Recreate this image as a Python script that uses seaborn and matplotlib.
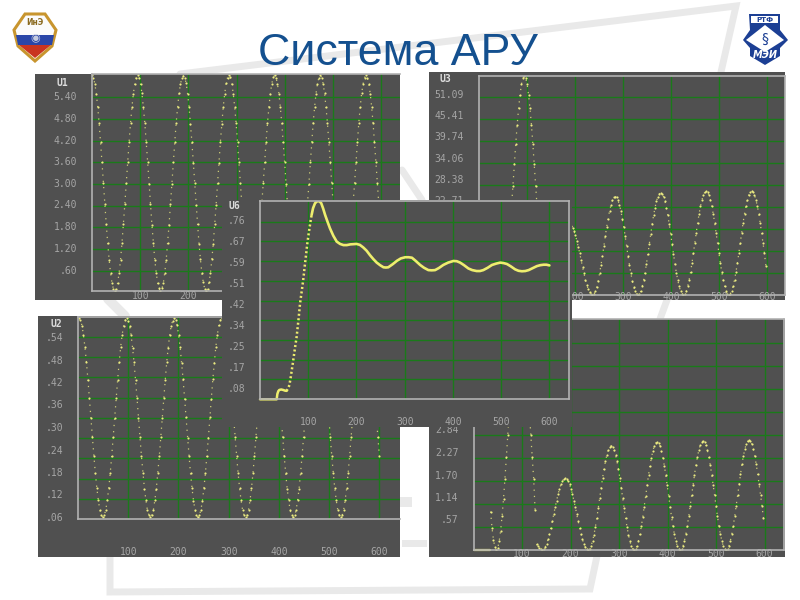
import numpy as np
import matplotlib
matplotlib.use("Agg")
import matplotlib.pyplot as plt
from matplotlib.patches import Polygon, Rectangle
import seaborn as sns

# ---------- data ----------
SAMPLE_STEP = 2.96
x_ticks = [100, 200, 300, 400, 500, 600]

u1_labels = ["5.40", "4.80", "4.20", "3.60", "3.00", "2.40", "1.80", "1.20", ".60"]
u1_grid = [5.4, 4.8, 4.2, 3.6, 3.0, 2.4, 1.8, 1.2, 0.6]
u1_values = [
    6.00,5.94,5.77,5.50,5.13,4.68,4.16,3.60,3.02,2.44,1.88,1.36,.91,.54,.27,.10,.04,.10,.27,.54,.91,1.36,1.88,2.44,3.02,3.60,4.16,4.68,5.13,5.50,5.77,5.94,
    6.00,5.93,5.76,5.51,5.12,4.69,4.15,3.61,3.01,2.45,1.87,1.37,.90,.55,.26,.11,.04,.11,.26,.55,.90,1.37,1.87,2.45,3.01,3.61,4.15,4.69,5.12,5.51,5.76,5.93,
    5.99,5.94,5.78,5.49,5.14,4.67,4.17,3.59,3.03,2.43,1.89,1.35,.92,.53,.28,.10,.05,.10,.28,.53,.92,1.35,1.89,2.43,3.03,3.59,4.17,4.67,5.14,5.49,5.78,5.94,
    6.00,5.95,5.77,5.50,5.13,4.68,4.16,3.60,3.02,2.44,1.88,1.36,.91,.54,.27,.10,.04,.10,.27,.54,.91,1.36,1.88,2.44,3.02,3.60,4.16,4.68,5.13,5.50,5.77,5.95,
    6.00,5.94,5.76,5.50,5.12,4.68,4.15,3.60,3.01,2.44,1.87,1.36,.90,.54,.26,.10,.04,.10,.26,.54,.90,1.36,1.87,2.44,3.01,3.60,4.15,4.68,5.12,5.50,5.76,5.94,
    6.00,5.94,5.77,5.51,5.13,4.69,4.16,3.61,3.02,2.45,1.88,1.37,.91,.55,.27,.11,.04,.11,.27,.55,.91,1.37,1.88,2.45,3.02,3.61,4.16,4.69,5.13,5.51,5.77,5.94,
    6.00,5.94,5.77,5.50,5.13,4.68,4.16,3.60,3.02,2.44,1.88,
]

u2_labels = [".54", ".48", ".42", ".36", ".30", ".24", ".18", ".12", ".06"]
u2_grid = [.54, .48, .42, .36, .30, .24, .18, .12, .06]
u2_values = [
    .595,.589,.573,.545,.509,.464,.413,.358,.300,.242,.187,.136,.091,.055,.027,.011,.005,.011,.027,.055,.091,.136,.187,.242,.300,.358,.413,.464,.509,.545,.573,.589,
    .595,.588,.572,.546,.508,.465,.412,.359,.299,.243,.186,.137,.090,.056,.026,.012,.005,.012,.026,.056,.090,.137,.186,.243,.299,.359,.412,.465,.508,.546,.572,.588,
    .596,.589,.574,.544,.510,.463,.414,.357,.301,.241,.188,.135,.092,.054,.028,.011,.005,.011,.028,.054,.092,.135,.188,.241,.301,.357,.414,.463,.510,.544,.574,.589,
    .595,.590,.573,.545,.509,.464,.413,.358,.300,.242,.187,.136,.091,.055,.027,.011,.005,.011,.027,.055,.091,.136,.187,.242,.300,.358,.413,.464,.509,.545,.573,.590,
    .595,.589,.572,.545,.508,.464,.412,.358,.299,.242,.186,.136,.090,.055,.026,.011,.005,.011,.026,.055,.090,.136,.186,.242,.299,.358,.412,.464,.508,.545,.572,.589,
    .595,.589,.573,.546,.509,.465,.413,.359,.300,.243,.187,.137,.091,.056,.027,.012,.005,.012,.027,.056,.091,.137,.187,.243,.300,.359,.413,.465,.509,.546,.573,.589,
    .595,.589,.573,.545,.509,.464,.413,.358,.300,.242,.187,
]

u3_labels = ["51.09", "45.41", "39.74", "34.06", "28.38", "22.71", "17.03", "11.35", "5.68"]
u3_grid = [51.09, 45.41, 39.74, 34.06, 28.38, 22.71, 17.03, 11.35, 5.68]
u3_values = [
    0,.5,2.1,4.8,8.3,12.6,17.4,22.7,28.2,33.8,39.1,44,48.2,51.7,54.4,56,56.5,56,54.4,51.7,48.2,44,39.1,33.8,28.2,22.7,17.4,12.6,8.3,4.8,2.1,.5,
    0,.2,.7,1.5,2.6,4,5.6,7.2,9,10.8,12.4,14,15.4,16.5,17.3,17.8,18,17.8,17.3,16.5,15.4,14,12.4,10.8,9,7.2,5.6,4,2.6,1.5,.7,.2,
    0,.2,1,2.1,3.7,5.6,7.8,10,12.7,15.2,17.6,19.7,21.7,23.2,24.4,25.2,25.4,25.2,24.4,23.2,21.7,19.7,17.6,15.2,12.7,10,7.8,5.6,3.7,2.1,1,.2,
    0,.3,1,2.2,3.9,5.8,8.1,10.6,13.2,15.8,18.3,20.6,22.5,24.2,25.4,26.1,26.4,26.1,25.4,24.2,22.5,20.6,18.3,15.8,13.2,10.6,8.1,5.8,3.9,2.2,1,.3,
    0,.3,1,2.3,3.9,5.9,8.2,10.8,13.4,16,18.6,20.9,22.9,24.5,25.8,26.5,26.8,26.5,25.8,24.5,22.9,20.9,18.6,16,13.4,10.8,8.2,5.9,3.9,2.3,1,.3,
    0,.3,1,2.3,4,6,8.3,10.8,13.5,16.1,18.7,21,23,24.6,25.9,26.6,26.9,26.6,25.9,24.6,23,21,18.7,16.1,13.5,10.8,7.6,
]

u4_labels = [".57", "1.14", "1.70", "2.27", "2.84"]
u4_grid = [.568, 1.136, 1.704, 2.272, 2.84, 3.408, 3.976, 4.544, 5.112]
u4_flat_x = [0, 34]
u4_flat_y = [0, 0]
u4_first_values = [
    .95,.55,.25,.07,
    0,.05,.22,.48,.83,1.26,1.76,2.29,2.85,3.41,3.94,4.44,4.86,5.22,5.49,5.65,5.70,5.65,5.49,5.22,4.86,4.44,3.94,3.41,2.85,2.29,1.76,.98,
]
u4_values = [
    .14,.10,.06,.02,
    0,.02,.07,.15,.26,.39,.55,.71,.885,1.06,1.22,1.38,1.51,1.62,1.70,1.75,1.77,1.75,1.70,1.62,1.51,1.38,1.22,1.06,.885,.71,.55,.39,.26,.15,.07,.02,
    0,.02,.10,.22,.38,.57,.79,1.03,1.285,1.54,1.78,2.0,2.19,2.35,2.47,2.55,2.57,2.55,2.47,2.35,2.19,2.0,1.78,1.54,1.285,1.03,.79,.57,.38,.22,.10,.02,
    0,.03,.10,.23,.39,.59,.82,1.07,1.335,1.60,1.85,2.08,2.28,2.44,2.57,2.64,2.67,2.64,2.57,2.44,2.28,2.08,1.85,1.60,1.335,1.07,.82,.59,.39,.23,.10,.03,
    0,.03,.10,.23,.40,.60,.83,1.08,1.345,1.61,1.86,2.09,2.29,2.46,2.59,2.66,2.69,2.66,2.59,2.46,2.29,2.09,1.86,1.61,1.345,1.08,.83,.60,.40,.23,.10,.03,
    0,.03,.10,.23,.40,.60,.83,1.09,1.355,1.62,1.88,2.11,2.31,2.48,2.61,2.68,2.71,2.68,2.61,2.48,2.31,2.11,1.88,1.62,1.355,1.09,.79,
]

u6_labels = [".76", ".67", ".59", ".51", ".42", ".34", ".25", ".17", ".08"]
u6_grid = [.76, .676, .591, .507, .422, .338, .253, .169, .085]
u6_rise_x = [55, 58, 61, 64, 68, 72, 76, 80, 83, 87, 90, 93, 95, 98, 101, 104, 107]
u6_rise_y = [.036, .045, .061, .098, .154, .212, .268, .345, .41, .47, .518, .575, .61, .665, .71, .752, .789]
u6_start_x = [0, 34.6, 36, 38, 40, 44, 48, 52, 55]
u6_start_y = [0, 0, .023, .035, .04, .042, .04, .037, .036]
u6_settle_x = [107, 110, 114, 118, 121, 124, 127, 131, 135, 140, 145, 152, 159, 166, 173, 180, 187, 194, 200, 207, 214, 221, 228, 235, 242, 249, 256, 261, 266, 275, 284, 292, 301, 308, 315, 323, 332, 340, 349, 356, 363, 371, 380, 390, 401, 408, 415, 423, 432, 440, 449, 456, 463, 472, 481, 490, 498, 505, 512, 520, 529, 536, 543, 550, 557, 565, 574, 581, 588, 594, 600]
u6_settle_y = [.789, .818, .839, .847, .848, .846, .839, .816, .789, .76, .732, .70, .675, .665, .66, .660, .663, .664, .665, .661, .65, .636, .617, .60, .585, .574, .565, .564, .565, .578, .593, .603, .608, .608, .606, .592, .575, .563, .553, .552, .553, .562, .575, .585, .592, .591, .585, .574, .56, .553, .549, .549, .553, .563, .575, .581, .585, .583, .579, .569, .556, .55, .548, .549, .553, .561, .570, .574, .576, .576, .573]

title = "Система АРУ"

# ---------- style ----------
BG = "#505050"
GRID = "#1a7a1a"
FRAME = "#b2b2b2"
TICK = "#a6a6a6"
CURVE = "#ecec82"
CURVE_LINE = "#eeee6e"
W_BAND = "#e9e9e9"

sns.set_theme(style="dark")
plt.rcParams["font.family"] = ["DejaVu Sans Mono"]

fig = plt.figure(figsize=(8, 6), dpi=100, facecolor="white")


def fx(px):
    return px / 800


def fy(py):
    return 1 - py / 600


def make_panel(outer, inner, xlim, ylim, grid_y, label_px, labels, name, name_xy,
               z, xlab_px, right=False):
    fig.add_artist(Rectangle((fx(outer[0]), fy(outer[3])), (outer[2] - outer[0]) / 800,
                             (outer[3] - outer[1]) / 600, transform=fig.transFigure,
                             facecolor=BG, edgecolor="none", zorder=z))
    ax = fig.add_axes([fx(inner[0]), fy(inner[3]), (inner[2] - inner[0]) / 800,
                       (inner[3] - inner[1]) / 600], zorder=z + 0.1)
    ax.set_facecolor(BG)
    ax._panel = (inner, xlim, ylim, grid_y, label_px, labels, xlab_px, right)
    if name:
        fig.text(fx(name_xy[0]), fy(name_xy[1]), name, color="#dcdcdc", fontsize=7,
                 fontweight="bold", ha="center", va="center", zorder=z + 0.2)
    return ax


def finish(ax):
    inner, xlim, ylim, grid_y, label_px, labels, xlab_px, right = ax._panel
    ax.set_xlim(*xlim)
    ax.set_ylim(*ylim)
    ax.set_xlabel("")
    ax.set_ylabel("")
    ax.set_axisbelow(True)
    ax.set_xticks(x_ticks)
    ax.set_xticklabels([str(t) for t in x_ticks], color=TICK, fontsize=7, va="center")
    scale = (ylim[1] - ylim[0]) / (inner[3] - inner[1])
    ax.yaxis.remove_overlapping_locs = False
    ax.set_yticks([ylim[0] + (inner[3] - p) * scale for p in label_px])
    ax.set_yticklabels(labels, color=TICK, fontsize=7, va="center")
    ax.set_yticks(grid_y, minor=True)
    ax.tick_params(axis="x", which="major", length=0, pad=xlab_px * 0.72)
    ax.tick_params(axis="y", which="major", length=0, pad=10.8)
    ax.tick_params(axis="y", which="minor", length=0)
    ax.grid(False)
    ax.grid(True, axis="x", which="major", color=GRID, lw=1.0)
    ax.grid(True, axis="y", which="minor", color=GRID, lw=1.0)
    for s in ("left", "top", "bottom"):
        ax.spines[s].set_color(FRAME)
        ax.spines[s].set_linewidth(1.2)
        ax.spines[s].set_visible(True)
    ax.spines["right"].set_visible(right)
    ax.spines["right"].set_color(FRAME)
    ax.spines["right"].set_linewidth(1.2)


def dots(ax, values, start):
    xs = start + np.arange(len(values)) * SAMPLE_STEP
    sns.lineplot(x=xs, y=values, ax=ax, color=CURVE, lw=0.9, ls=(0, (1.0, 4.0)), alpha=0.8,
                 legend=False, sort=False, estimator=None)
    sns.scatterplot(x=xs, y=values, ax=ax, s=2.4, color=CURVE, linewidth=0, legend=False)


# ---------- decoration layer (watermark, logos, title) ----------
deco = fig.add_axes([0, 0, 1, 1], zorder=0)
deco.set_xlim(0, 800)
deco.set_ylim(600, 0)
deco.axis("off")
deco.plot([180, 736, 721], [74, 6, 72], color=W_BAND, lw=5, solid_joinstyle="miter")
deco.plot([110, 110, 590, 597], [556, 592, 589, 556], color=W_BAND, lw=5, solid_joinstyle="miter")
deco.plot([108, 125], [299, 316], color=W_BAND, lw=7)
deco.plot([667, 660], [300, 319], color=W_BAND, lw=5)
deco.plot([402, 422], [170, 200], color=W_BAND, lw=5)
deco.add_patch(Rectangle((402, 540), 25, 7, color=W_BAND, lw=0))
deco.add_patch(Rectangle((400, 497), 12, 10, color=W_BAND, lw=0))

# left shield
shield = [(25, 14), (45, 14), (56, 30), (52, 46), (35, 61), (18, 46), (14, 30)]
deco.add_patch(Polygon(shield, closed=True, facecolor="#fbfbfb", edgecolor="#c8952e", lw=2.2))
deco.add_patch(Polygon([(16, 35), (54, 35), (52, 45), (18, 45)], closed=True, facecolor="#2a46a8", lw=0))
deco.add_patch(Polygon([(19, 45), (51, 45), (35, 58)], closed=True, facecolor="#c9341f", lw=0))
deco.text(35, 22.5, "ИнЭ", fontsize=5.5, color="#8a6a20", ha="center", va="center",
          fontweight="bold", family="DejaVu Sans")
deco.text(35, 38, "◉", fontsize=8, color="#c4cbe0", ha="center", va="center", family="DejaVu Sans")

# right logo
logo = [(749, 14), (780, 14), (780, 30), (788, 40), (780, 48), (780, 56), (765, 65),
        (750, 56), (750, 48), (743, 40), (750, 30)]
deco.add_patch(Polygon(logo, closed=True, facecolor="#1c3f94", edgecolor="none"))
deco.add_patch(Rectangle((751, 16), 27, 7, facecolor="white", edgecolor="none"))
deco.add_patch(Polygon([(765, 25), (784, 40), (765, 52), (746, 40)], closed=True, facecolor="white", lw=0))
deco.text(764.5, 19.5, "РТФ", fontsize=5, color="#1c3f94", ha="center", va="center",
          fontweight="bold", family="DejaVu Sans")
deco.text(765, 39, "§", fontsize=10, color="#1c3f94", ha="center", va="center", family="DejaVu Sans")
deco.text(765, 55, "МЭИ", fontsize=7, color="white", ha="center", va="center", rotation=0,
          fontweight="bold", style="italic", family="DejaVu Sans")

deco.text(397.5, 65, title, fontsize=32.2, color="#14508f", ha="center", va="baseline",
          family="Liberation Sans")

# ---------- panels ----------
ax1 = make_panel((35, 74, 400, 299.5), (92, 74, 400, 291), (0, 639), (0.04, 6.04), u1_grid,
                 [97.3, 119.3, 140.7, 161.7, 184.3, 205.3, 227, 249.3, 270.7], u1_labels,
                 "U1", (62.7, 83), 1, 5)
dots(ax1, u1_values, 0)
finish(ax1)

ax3 = make_panel((429, 72, 785, 300), (479, 75.7, 785, 295), (0, 637.5), (0, 56.6), u3_grid,
                 [94.7 + 21.3 * i for i in range(9)], u3_labels, "U3", (445, 79), 2, 2, right=True)
dots(ax3, u3_values, 47)
finish(ax3)

ax2 = make_panel((38, 316, 400, 557), (78, 316.5, 400, 519), (0, 641), (0, 0.6), u2_grid,
                 [338 + 22.5 * i for i in range(9)], u2_labels, "U2", (56.7, 324), 3, 32.7)
dots(ax2, u2_values, 2)
finish(ax2)

ax4 = make_panel((429, 319, 785, 557), (473.5, 319, 784, 550), (0, 640), (0, 5.7), u4_grid,
                 [520.3, 498.3, 475.7, 453, 430.3], u4_labels, None, None, 4, 4, right=True)
dots(ax4, u4_first_values, 35.2)
dots(ax4, u4_values, 129.9)
sns.lineplot(x=u4_flat_x, y=u4_flat_y, ax=ax4, color=CURVE_LINE, lw=1.6, clip_on=False, legend=False)
finish(ax4)

ax6 = make_panel((222, 200, 572, 427), (260, 200.7, 568.7, 399.3), (0, 640), (0, 0.85), u6_grid,
                 [221 + 21 * i for i in range(9)], u6_labels, "U6", (234, 206), 5, 22.7, right=True)
sns.lineplot(x=u6_start_x, y=u6_start_y, ax=ax6, color=CURVE_LINE, lw=1.8, clip_on=False, legend=False)
sns.lineplot(x=u6_rise_x, y=u6_rise_y, ax=ax6, color=CURVE_LINE, lw=1.8, ls=(0, (0.8, 1.0)), legend=False)
sns.lineplot(x=u6_settle_x, y=u6_settle_y, ax=ax6, color=CURVE_LINE, lw=1.9, legend=False)
finish(ax6)

fig.savefig("out.png", dpi=100)
